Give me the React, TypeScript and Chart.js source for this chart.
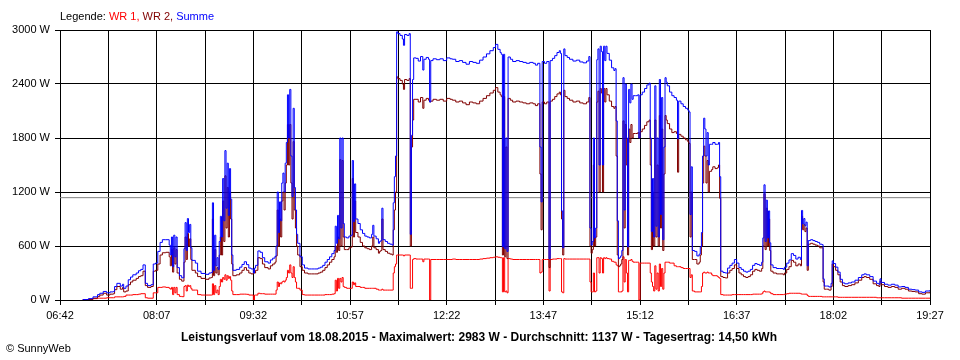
import React, { useEffect, useRef } from "react";
import { Chart, registerables } from "chart.js";

Chart.register(...registerables);

// ---------- DATA ----------
const TIMES: string[] = [
  // 07
  "07:02","07:07","07:11","07:15","07:17","07:20","07:23","07:26","07:29","07:30","07:32","07:35","07:37","07:38","07:40","07:42","07:44","07:46","07:49","07:51","07:53","07:55","07:57","07:59",
  // 08
  "08:02","08:04","08:06","08:08","08:10","08:12","08:15","08:18","08:19","08:20","08:21","08:22","08:23","08:24","08:25","08:27","08:29","08:31","08:32","08:33","08:34","08:35","08:36","08:37","08:38","08:41","08:43","08:46","08:50","08:53","08:55","08:56","08:57","08:58","08:59",
  // 09
  "09:00","09:01","09:02","09:03","09:04","09:05","09:06","09:07","09:08","09:09","09:10","09:11","09:12","09:13","09:14","09:17","09:20","09:22","09:24","09:26","09:28","09:30","09:32","09:33","09:34","09:36","09:38","09:40","09:42","09:45","09:47","09:49","09:51","09:52","09:53","09:54","09:55","09:56","09:57","09:58","09:59",
  // 10
  "10:00","10:01","10:02","10:03","10:04","10:05","10:06","10:07","10:08","10:09","10:10","10:11","10:13","10:15","10:17","10:20","10:23","10:26","10:29","10:31","10:33","10:35","10:37","10:39","10:41","10:43","10:44","10:45","10:46","10:47","10:48","10:49","10:50","10:51","10:52","10:54","10:56","10:58","10:59",
  // 11
  "11:00","11:01","11:02","11:04","11:06","11:08","11:10","11:12","11:14","11:16","11:17","11:18","11:20","11:22","11:23","11:24","11:25","11:26","11:28","11:30","11:32","11:34","11:35","11:36","11:37","11:38","11:39","11:41","11:43","11:44","11:45","11:47","11:49","11:50","11:51","11:52","11:53","11:55","11:57","11:59",
  // 12
  "12:01","12:02","12:04","12:06","12:07","12:08","12:10","12:13","12:16","12:19","12:22","12:25","12:27","12:30","12:33","12:36","12:39","12:42","12:45","12:48","12:51","12:54","12:57",
  // 13
  "13:00","13:03","13:05","13:07","13:09","13:10","13:11","13:12","13:13","13:14","13:15","13:16","13:18","13:20","13:23","13:26","13:29","13:32","13:35","13:38","13:40","13:42","13:44","13:45","13:46","13:48","13:50","13:52","13:53","13:55","13:57","13:59",
  // 14
  "14:01","14:02","14:03","14:04","14:05","14:06","14:08","14:10","14:13","14:16","14:19","14:22","14:25","14:27","14:28","14:29","14:30","14:31","14:32","14:33","14:34","14:35","14:36","14:37","14:38","14:39","14:40","14:41","14:42","14:43","14:45","14:47","14:49","14:50","14:51","14:52","14:53","14:54","14:55","14:56","14:57","14:58","14:59",
  // 15
  "15:00","15:01","15:02","15:03","15:04","15:05","15:06","15:08","15:10","15:11","15:12","15:14","15:16","15:18","15:20","15:21","15:22","15:23","15:24","15:25","15:26","15:27","15:28","15:29","15:30","15:31","15:32","15:33","15:34","15:35","15:36","15:38","15:40","15:42","15:44","15:45","15:46","15:48","15:50","15:52","15:54","15:55","15:56","15:57","15:58",
  // 16
  "16:00","16:02","16:04","16:05","16:06","16:07","16:08","16:09","16:10","16:11","16:12","16:13","16:15","16:16","16:18","16:20","16:21","16:22","16:23","16:25","16:27","16:29","16:31","16:33","16:35","16:37","16:39","16:41","16:43","16:45","16:47","16:49","16:51","16:53","16:55","16:57","16:59",
  // 17
  "17:00","17:01","17:02","17:03","17:04","17:05","17:06","17:07","17:09","17:12","17:15","17:18","17:19","17:21","17:23","17:25","17:27","17:29","17:31","17:33","17:34","17:35","17:36","17:37","17:38","17:39","17:40","17:42","17:44","17:46","17:48","17:50","17:52","17:53","17:54","17:56","17:58",
  // 18
  "18:00","18:01","18:02","18:04","18:06","18:08","18:10","18:12","18:15","18:18","18:21","18:24","18:27","18:29","18:31","18:34","18:37","18:40","18:42","18:43","18:44","18:47","18:50","18:53","18:56","18:59",
  // 19
  "19:02","19:05","19:08","19:11","19:14","19:17","19:20","19:23","19:27",
];

// WR 1 (W)
const WR1: number[] = [
  // 07
  5,10,15,20,20,20,25,25,25,35,35,35,35,40,55,55,55,60,60,65,70,70,25,20,
  // 08
  20,80,80,140,140, 145,140,130,120,140, 60,140,80,140,60, 40,37,150,160,100, 165,150,160,130,110, 110,60,55,55,55, 55,180,60,160,80,
  // 09
  110,60,150,230,200,250,230,280,220,270,240,260,220,100,60, 60,65,65,65,63,55,55,0,55,55, 75,70,70,65,65,65,65,65, 110,200,150,190,180,200,210,200,
  // 10
  220,250,330,300,390,300,250,370,250,200,130,130, 110,60,55,55,55,55,55,55,55,60,60,60,65,70, 220,100,240,130,240,200,250,150,140, 130,130,130,200,
  // 11
  170,190,150,150,140,140,130,130,130,130, 130,130,120,110,110,110,120,110,110,110, 110,110,300,370,400,500,500,500,500,490, 500,500,500,130,130,450,460,455,455,455,
  // 12
  425,455,455,455,0,450,450,450,450,450,450,450,455,450,450,450,450,450,450,450,455,460,465,
  // 13
  470,475,480,475,470,470,90,470,90,100, 80,460,455,450,450,450,450,450,450,450, 450,450,300,310,450,450,450,100,450,455, 455,460,
  // 14
  460,460,90,80,460,455,455,455,455,455, 455,455,455,455,200,90,90,300,90,100, 470,470,300,470,460,300,470,460,470,460, 455,430,420,420,390,380,90,90,90,100, 480,200,450,
  // 15
  300,90,440,440,450,430,420,420,420,0, 410,410,410,410,410,300,200,150,100,380, 120,300,100,400,150,350,120,300,420,420, 420,410,410,380,370,370,370,360,350,350, 350,350,250,280,100,
  // 16
  90,90,90,90,150,300,310,300,300,310, 300,300,280,270,270,260,250,240,60,55, 55,55,55,60,60,60,60,60,60,60, 60,60,65,65,65,65,70,
  // 17
  90,100,90,90,90,90,85,70,60,60, 60,60,65,70,75,75,75,75,75,70, 65,65,65,65,65,50,40,40,40,40, 40,40,35,35,35,35,35,
  // 18
  35,35,35,35,30,30,30,30,30,30, 30,30,30,30,30,30,30,25,25,25, 25,25,25,25,25,25,
  // 19
  20,20,20,20,20,20,20,20,20,
];

// WR 2 (W)
const WR2: number[] = [
  // 07
  0,5,20,40,55,75,55,65,70,115,150,120,140,90,100,170,200,220,240,260,270,320,160,140,
  // 08
  150,320,330,400,500, 525,530,480,380,560, 310,580,400,560,300, 230,210,420,700,450, 740,600,680,450,330, 300,260,240,230,245, 250,900,270,560,300,
  // 09
  360,280,500,700,500,1100,650,1380,800,1250,700,1200,900,400,270, 280,300,330,360,330,300,290,300,300,330, 470,460,400,360,345,380,400,420, 490,1000,600,900,700,1100,1200,1000,
  // 10
  1300,1500,1950,1500,1950,1300,900,1760,1000,800,600,500, 370,330,300,290,290,290,300,310,330,360,390,420,450,480, 600,530,700,550,1560,600,1550,700,560, 560,580,590,1350,
  // 11
  700,1100,750,700,640,600,580,570,560,600, 700,580,560,520,540,550,900,560,540,520, 510,500,780,1000,1200,2480,2460,2440,2400,2340, 2450,2440,2460,600,1700,2000,2230,2230,2200,2250,
  // 12
  2130,2220,2240,2220,2200,2210,2230,2220,2230,2210,2240,2230,2220,2200,2210,2190,2170,2200,2190,2180,2210,2240,2270,
  // 13
  2300,2330,2360,2310,2280,2260,500,2260,480,1700, 460,2240,2220,2200,2210,2200,2190,2180,2190,2180, 2160,2180,1400,780,2200,2180,2200,360,2210,2230, 2260,2290,
  // 14
  2310,2280,900,500,2330,2260,2240,2220,2200,2210, 2190,2180,2200,2250,600,520,560,1500,600,700, 2200,2320,1200,2350,2300,1200,2350,2200,2350,2280, 2210,2150,2130,2150,1600,500,370,380,400,450, 1990,800,1950,
  // 15
  1500,500,1900,1750,1950,1800,1850,1850,1860,1800, 1870,1900,1940,1980,2000,1500,560,1200,600,2000, 700,1500,600,2050,800,1900,550,1400,2050,2000, 1960,1900,1860,1870,1850,1420,1840,1820,1800,1780, 1760,1740,700,1200,450,
  // 16
  450,400,420,500,600,1300,1710,1600,1300,1550, 1200,1430,1450,1480,1460,1470,1500,1130,260,250, 245,300,330,350,390,350,300,280,260,250, 260,280,320,340,330,320,350,
  // 17
  600,1180,560,1020,600,900,550,320,300,290, 290,280,300,340,370,440,420,380,400,380, 930,780,840,760,800,330,620,630,620,610, 600,580,580,200,120,120,110,
  // 18
  150,400,370,330,280,200,160,150,160,170, 190,220,250,260,250,230,180,160,150,210, 170,150,140,150,140,120,
  // 19
  130,120,100,95,90,70,65,80,90,
];

const AVERAGE_W = 1137;
const TICK_LABELS = ["06:42","08:07","09:32","10:57","12:22","13:47","15:12","16:37","18:02","19:27"];
const Y_MAX = 3000;
const Y_STEP = 600;

const LEGEND_PARTS: [string, string][] = [
  ["Legende: ", "#000000"],
  ["WR 1, ", "#ff0000"],
  ["WR 2, ", "#800000"],
  ["Summe", "#0000ff"],
];
const TITLE = "Leistungsverlauf vom 18.08.2015 - Maximalwert: 2983 W - Durchschnitt: 1137 W - Tagesertrag: 14,50 kWh";
const COPYRIGHT = "\u00A9 SunnyWeb";

// ---------- helpers ----------
const toMin = (t: string) => {
  const [h, m] = t.split(":").map(Number);
  return h * 60 + m;
};
const FONT = '"Liberation Sans", Arial, sans-serif';

export default function App() {
  const ref = useRef<HTMLCanvasElement | null>(null);

  useEffect(() => {
    if (!ref.current) return;
    const n = Math.min(TIMES.length, WR1.length, WR2.length);
    const xs = TIMES.slice(0, n).map(toMin);
    const wr1 = xs.map((x, i) => ({ x, y: WR1[i] }));
    const wr2 = xs.map((x, i) => ({ x, y: WR2[i] }));
    const sum = xs.map((x, i) => ({ x, y: WR1[i] + WR2[i] }));

    const labelMins = TICK_LABELS.map(toMin);
    const xMin = labelMins[0];
    const xMax = labelMins[labelMins.length - 1];
    const gridVals: number[] = [];
    labelMins.forEach((m, i) => {
      gridVals.push(m);
      if (i < labelMins.length - 1) gridVals.push((m + labelMins[i + 1]) / 2);
    });
    const labelMap = new Map<number, string>();
    labelMins.forEach((m, i) => labelMap.set(m, TICK_LABELS[i]));

    const textPlugin = {
      id: "sunnyTexts",
      afterDraw(chart: any) {
        const ctx = chart.ctx as CanvasRenderingContext2D;
        ctx.save();
        ctx.textBaseline = "alphabetic";
        ctx.font = `11px ${FONT}`;
        let x = chart.chartArea.left;
        for (const [t, c] of LEGEND_PARTS) {
          ctx.fillStyle = c;
          ctx.textAlign = "left";
          ctx.fillText(t, x, 20);
          x += ctx.measureText(t).width;
        }
        ctx.font = `bold 12px ${FONT}`;
        ctx.fillStyle = "#000";
        ctx.textAlign = "center";
        ctx.fillText(TITLE, 479, 341);
        ctx.font = `11px ${FONT}`;
        ctx.textAlign = "left";
        ctx.fillText(COPYRIGHT, 6, 352);
        ctx.restore();
      },
    };

    const chart = new Chart(ref.current, {
      type: "line",
      data: {
        datasets: [
          { label: "Summe", data: sum, borderColor: "#0000ff", order: 0, stepped: true },
          { label: "WR 2", data: wr2, borderColor: "#800000", order: 1, stepped: true },
          { label: "WR 1", data: wr1, borderColor: "#ff0000", order: 2, stepped: true },
          {
            label: "Durchschnitt",
            data: [ { x: xMin, y: AVERAGE_W }, { x: xMax, y: AVERAGE_W } ],
            borderColor: "#808080",
            order: 3,
          },
        ] as any,
      },
      options: {
        animation: false,
        responsive: false,
        devicePixelRatio: 1,
        parsing: false as any,
        layout: { padding: { top: 30, right: 30, left: 0, bottom: 0 } },
        elements: {
          line: { borderWidth: 1, tension: 0, fill: false },
          point: { radius: 0, hoverRadius: 0 },
        },
        plugins: {
          legend: { display: false },
          tooltip: { enabled: false },
          title: { display: false },
        },
        events: [],
        scales: {
          x: {
            type: "linear",
            min: xMin,
            max: xMax,
            afterBuildTicks: (scale: any) => {
              scale.ticks = gridVals.map((v) => ({ value: v }));
            },
            afterFit: (scale: any) => {
              scale.height = 60;
            },
            ticks: {
              autoSkip: false,
              maxRotation: 0,
              padding: 4,
              color: "#000",
              font: { family: FONT, size: 11 },
              callback: (v: any) => labelMap.get(Number(v)) ?? "",
            },
            grid: { color: "#000", lineWidth: 1, drawTicks: true, tickLength: 5, tickColor: "#000" },
            border: { display: true, color: "#000", width: 1 },
          },
          y: {
            type: "linear",
            min: 0,
            max: Y_MAX,
            afterFit: (scale: any) => {
              scale.width = 60;
            },
            ticks: {
              stepSize: Y_STEP,
              padding: 5,
              color: "#000",
              font: { family: FONT, size: 11 },
              callback: (v: any) => `${v} W`,
            },
            grid: { color: "#000", lineWidth: 1, drawTicks: true, tickLength: 5, tickColor: "#000" },
            border: { display: true, color: "#000", width: 1 },
          },
        },
      },
      plugins: [textPlugin],
    } as any);

    return () => chart.destroy();
  }, []);

  return (
    <div style={{ position: "fixed", left: 0, top: 0, width: 960, height: 360, background: "#fff" }}>
      <canvas ref={ref} width={960} height={360} style={{ width: 960, height: 360, display: "block" }} />
    </div>
  );
}
